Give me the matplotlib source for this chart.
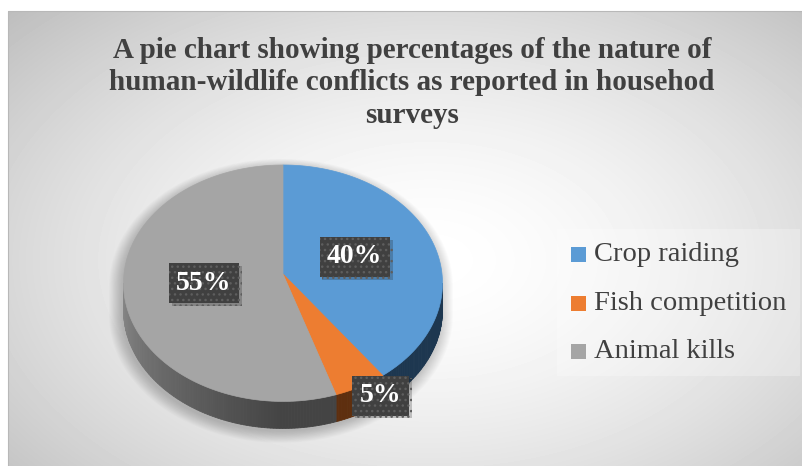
import numpy as np
import matplotlib.pyplot as plt
from matplotlib.patches import Polygon, Rectangle
from matplotlib import patheffects as pe
from matplotlib.colors import to_rgb

# survey results
categories = ['Crop raiding', 'Fish competition', 'Animal kills']
shares = [40, 5, 55]
top_colors = ['#5B9BD5', '#ED7D31', '#A5A5A5']
side_light = ['#24425f', '#6a3613', '#8a8a8a']
side_dark = ['#1d3750', '#5e2f0f', '#444444']
title = ('A pie chart showing percentages of the nature of\n'
         'human-wildlife conflicts as reported in househod\n'
         'surveys')

# pie geometry (pixels)
cx, cy = 283, 274
A, B = 159, 117.5
k = 0.078          # perspective
depth = 27


def proj(f, phi):
    phi = np.radians(phi)
    z = f * np.sin(phi)
    d = 1 + k * z
    return cx + A * f * np.cos(phi) / d, cy - B * z / d


fig = plt.figure(figsize=(8.02, 4.66), dpi=100)
ax = fig.add_axes([0, 0, 1, 1])
ax.set_xlim(0, 802)
ax.set_ylim(466, 0)
ax.axis('off')

# radial grey background
gx, gy = np.meshgrid(np.arange(8, 802), np.arange(11, 466))
r = np.sqrt(((gx - 430) / 480.0) ** 2 + ((gy - 260) / 300.0) ** 2)
val = np.clip(1 - 0.19 * r ** 1.6, 0, 1)
ax.imshow(val, cmap='gray', vmin=0, vmax=1, extent=(8, 802, 466, 11),
          aspect='auto', zorder=0, interpolation='bilinear')
ax.add_patch(Rectangle((8, 11), 800, 460, fill=False, ec='#b8b8b8', lw=0.8, zorder=1))

# soft shadow around the pie
s_lo = -180 + np.degrees(np.arcsin(k))
s_hi = -np.degrees(np.arcsin(k))
back = np.linspace(s_hi, s_lo + 360, 200)
front = np.linspace(s_lo, s_hi, 200)
bx, by = proj(1, back)
fx, fy = proj(1, front)
sil = np.vstack([np.column_stack([bx, by]), np.column_stack([fx, fy + depth])])
for i in range(14):
    s = 1 + 0.006 * i
    pts = np.column_stack([cx + (sil[:, 0] - cx) * s - 2,
                           cy + 8 + (sil[:, 1] - cy - 8) * s + 3])
    ax.add_patch(Polygon(pts, closed=True, fc='black', ec='none', alpha=0.015, zorder=2))

# slice angles, clockwise from 12 o'clock
starts, ends = [], []
a0 = 90.0
for v in shares:
    starts.append(a0)
    a0 -= v * 3.6
    ends.append(a0)

# sides of the front part
for i in range(len(shares)):
    lo, hi = ends[i], starts[i]
    for off in (0, -360, 360):
        a, b = max(lo + off, s_lo), min(hi + off, s_hi)
        if a >= b:
            continue
        steps = np.linspace(a, b, max(2, int(b - a) + 1))
        for p, q in zip(steps[:-1], steps[1:]):
            t = np.clip((0.5 * (p + q) - s_lo) / 85.0, 0, 1)
            c = (1 - t) * np.array(to_rgb(side_light[i])) + t * np.array(to_rgb(side_dark[i]))
            x1, y1 = proj(1, p)
            x2, y2 = proj(1, q)
            ax.add_patch(Polygon([(x1, y1), (x2, y2), (x2, y2 + depth), (x1, y1 + depth)],
                                 closed=True, fc=c, ec=c, lw=0.6, zorder=3))

# top face
for i in range(len(shares)):
    phis = np.linspace(starts[i], ends[i], 200)
    xs, ys = proj(1, phis)
    pts = [(cx, cy)] + list(zip(xs, ys))
    ax.add_patch(Polygon(pts, closed=True, fc=top_colors[i], ec=top_colors[i],
                         lw=0.5, zorder=4))

# data labels
label_r = [0.48, 1.0, 0.5]
label_off = [(0, 0), (20, 9), (0, 0)]
for i, v in enumerate(shares):
    mid = 0.5 * (starts[i] + ends[i])
    lx, ly = proj(label_r[i], mid)
    lx += label_off[i][0]
    ly += label_off[i][1]
    t = ax.text(lx, ly, '%d%%' % v, ha='center', va='center', color='white',
                fontsize=20, fontweight='bold', family='Liberation Serif', zorder=6,
                bbox=dict(boxstyle='square,pad=0.27', fc='#404040', ec='#5e5e5e',
                          lw=0, hatch='...'))
    t.get_bbox_patch().set_path_effects([pe.SimplePatchShadow(offset=(2, -2), alpha=0.22),
                                         pe.Normal()])

# title
ax.text(412, 83, title, ha='center', va='center', fontsize=21, fontweight='bold',
        family='Liberation Serif', color='#404040', linespacing=1.24, zorder=6)

# legend
ax.add_patch(Rectangle((557, 229), 243, 147, fc='white', ec='none', alpha=0.25, zorder=1))
for i, name in enumerate(categories):
    yy = 254.5 + 48.5 * i
    ax.add_patch(Rectangle((571, yy - 7.5), 15, 15, fc=top_colors[i], ec='none', zorder=6))
    ax.text(594, yy, name, ha='left', va='center', fontsize=20.5,
            family='Liberation Serif', color='#404040', zorder=6)

fig.savefig('out.png', dpi=100)
